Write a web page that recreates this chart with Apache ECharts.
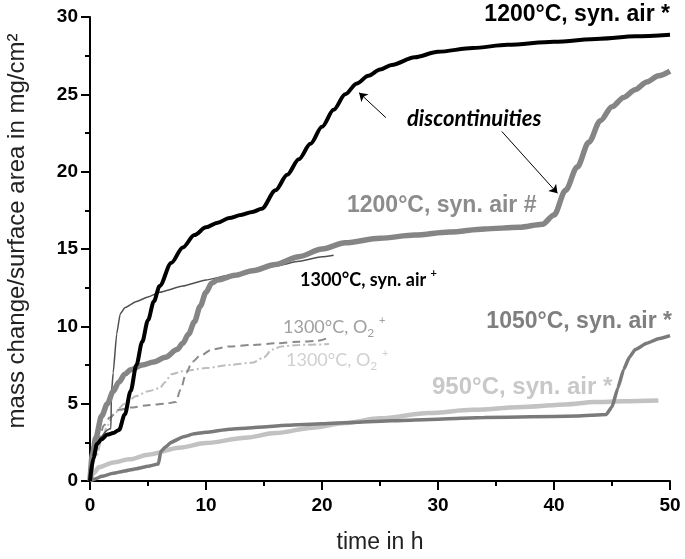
<!DOCTYPE html>
<html>
<head>
<meta charset="utf-8">
<script src="https://cdn.jsdelivr.net/npm/echarts@6/dist/echarts.min.js"></script>
<style>html,body{margin:0;padding:0;background:#fff}#c{width:685px;height:559px}</style>
</head>
<body>
<div id="c"></div>
<script>
// ---- data (time in h, mass change in mg/cm2) ----
var xTicks = [0, 10, 20, 30, 40, 50];
var yTicks = [0, 5, 10, 15, 20, 25, 30];

var t1200a = [0,0.3,0.6,1.0,1.5,2.0,2.5,3.0,3.5,4.0,4.5,5.0,5.5,6.0,7.0,8.0,9.0,10.0,11.0,12.0,13.0,14.0,14.8,16.0,17.0,18.0,19.0,20.0,21.0,22.0,23.0,24.0,25.0,26.0,28.0,30.0,33.0,36.0,40.0,44.0,47.0,50.0];
var v1200a = [0,1.5,2.4,2.7,3.0,3.1,3.3,4.3,5.8,7.5,9.0,10.4,11.6,12.6,14.1,15.1,15.9,16.4,16.7,17.0,17.2,17.4,17.6,18.8,19.8,20.8,21.8,22.9,24.0,25.0,25.7,26.2,26.6,26.9,27.4,27.75,28.0,28.2,28.4,28.6,28.75,28.85];

var t1200b = [0,0.2,0.5,1.0,1.5,2.0,2.5,3.0,3.5,4.5,5.5,6.5,7.5,8.0,8.5,9.0,9.5,10.0,10.5,11.0,12.5,14.0,16.0,18.0,20.0,22.0,25.0,28.0,31.0,34.0,37.0,39.0,40.0,41.0,42.0,43.0,44.0,45.0,46.0,47.0,48.0,49.0,50.0];
var v1200b = [0,1.7,2.8,4.2,5.0,5.8,6.4,6.9,7.2,7.5,7.7,8.0,8.5,8.9,9.5,10.3,11.3,12.2,12.8,13.0,13.3,13.6,14.0,14.5,15.0,15.4,15.7,15.9,16.1,16.3,16.4,16.6,17.2,18.8,20.3,21.9,23.3,24.2,24.8,25.3,25.8,26.2,26.5];

var t1300air = [0,0.4,0.9,1.5,1.8,1.85,2.0,2.3,2.6,3.0,4.0,5.0,6.0,8.0,10.0,12.0,14.0,16.0,18.0,20.0,21.0];
var v1300air = [0,1.8,2.8,3.3,3.4,5.7,7.0,9.5,10.8,11.2,11.6,11.9,12.2,12.6,13.0,13.3,13.6,13.9,14.2,14.5,14.6];

var t1300o2a = [0,0.4,0.8,1.2,1.7,2.5,3.5,5.0,6.5,7.4,7.8,8.3,8.8,9.5,10.5,12.0,14.0,16.0,18.0,19.5,20.5];
var v1300o2a = [0,1.5,2.8,3.6,4.1,4.6,4.75,4.9,5.0,5.1,5.9,7.0,7.7,8.1,8.5,8.7,8.8,8.9,9.0,9.05,9.25];

var t1300o2b = [0,0.5,1.0,1.5,2.0,3.0,4.0,5.0,6.0,6.5,7.0,8.0,10.0,12.0,14.0,15.0,15.7,16.5,18.0,20.6];
var v1300o2b = [0,1.5,2.6,3.6,4.3,5.0,5.5,5.8,6.0,6.4,6.9,7.1,7.3,7.5,7.65,8.0,8.5,8.7,8.8,8.85];

var t1050 = [0,0.5,1,2,3,4,5,5.9,6.1,6.5,7,8,9,10,12,14,17,20,23,26,30,34,38,42,44.5,45,45.5,46,46.5,47,48,49,50];
var v1050 = [0,0.15,0.3,0.5,0.65,0.8,0.95,1.1,1.9,2.2,2.5,2.85,3.05,3.15,3.35,3.45,3.6,3.7,3.8,3.9,4.0,4.1,4.15,4.2,4.3,4.8,6.0,7.2,8.0,8.5,8.9,9.2,9.4];

var t950 = [0,0.3,0.8,2,3.4,5,7.7,10,13.4,16,19.2,22,25,29.2,33,37.8,41,43.5,46,49];
var v950 = [0,0.5,0.9,1.2,1.4,1.7,2.15,2.45,2.8,3.1,3.45,3.75,4.05,4.4,4.6,4.8,4.95,5.1,5.15,5.2];

// arrow annotations [from, to] in data coordinates
var arrow1 = [[25.5, 23.5], [23.2, 25.1]];
var arrow2 = [[35.5, 22.6], [40.3, 18.6]];

function pairs(t, v) { return t.map(function (x, i) { return [x, v[i]]; }); }

var chart = echarts.init(document.getElementById('c'));
var SANS = '"Liberation Sans", Arial, sans-serif';
var CAL = 'Lato, "Liberation Sans", sans-serif';

function line(name, t, v, color, width, type, smooth) {
  return {
    name: name, type: 'line', data: pairs(t, v), showSymbol: false, symbol: 'none',
    smooth: smooth === undefined ? 0.3 : smooth, smoothMonotone: 'x',
    lineStyle: { color: color, width: width, type: type || 'solid' },
    silent: true, animation: false
  };
}

var black = line('1200°C, syn. air *', t1200a, v1200a, '#000000', 4);
black.markLine = {
  silent: true, animation: false, symbol: ['none', 'arrow'], symbolSize: 8,
  label: { show: false },
  lineStyle: { color: '#000', width: 1, type: 'solid' },
  data: [
    [{ coord: arrow1[0] }, { coord: arrow1[1] }],
    [{ coord: arrow2[0] }, { coord: arrow2[1] }]
  ]
};

function o2label(x, y, col) {
  return { type: 'text', x: x, y: y, style: {
    text: '{a|1300°C, O}{b|2}{a| }{s|+}', textAlign: 'left', textVerticalAlign: 'middle',
    rich: { a: { fontFamily: CAL, fontSize: 18, fill: col, lineHeight: 24 },
            b: { fontFamily: CAL, fontSize: 12, fill: col, lineHeight: 24, verticalAlign: 'bottom' },
            s: { fontFamily: CAL, fontSize: 11, fill: col, lineHeight: 24, verticalAlign: 'top' } } } };
}

var option = {
  backgroundColor: '#ffffff',
  animation: false,
  grid: { left: 90, right: 15, top: 17, bottom: 72, containLabel: false },
  xAxis: {
    type: 'value', min: 0, max: 50, interval: 10,
    name: 'time in h', nameLocation: 'middle', nameGap: 50,
    nameTextStyle: { fontFamily: SANS, fontSize: 23, color: '#222' },
    axisLine: { lineStyle: { color: '#000', width: 2 } },
    axisTick: { show: true, inside: false, length: 9, lineStyle: { color: '#000', width: 2 } },
    minorTick: { show: true, splitNumber: 2, length: 5, lineStyle: { color: '#000', width: 2 } },
    axisLabel: { fontFamily: SANS, fontWeight: 'bold', fontSize: 19, color: '#000', margin: 15 },
    splitLine: { show: false }
  },
  yAxis: {
    type: 'value', min: 0, max: 30, interval: 5,
    axisLine: { show: true, lineStyle: { color: '#000', width: 2 } },
    axisTick: { show: true, inside: false, length: 9, lineStyle: { color: '#000', width: 2 } },
    minorTick: { show: true, splitNumber: 2, length: 5, lineStyle: { color: '#000', width: 2 } },
    axisLabel: { fontFamily: SANS, fontWeight: 'bold', fontSize: 19, color: '#000', margin: 12 },
    splitLine: { show: false }
  },
  series: [
    line('950°C, syn. air *', t950, v950, '#c2c2c2', 4.5),
    line('1050°C, syn. air *', t1050, v1050, '#7a7a7a', 3.5, 'solid', 0.15),
    line('1300°C, O2 + (b)', t1300o2b, v1300o2b, '#bdbdbd', 2, [8, 3, 2, 3]),
    line('1300°C, O2 + (a)', t1300o2a, v1300o2a, '#8a8a8a', 2, [8, 5]),
    line('1300°C, syn. air +', t1300air, v1300air, '#505050', 1.5, 'solid', 0.15),
    line('1200°C, syn. air #', t1200b, v1200b, '#858585', 5.5),
    black
  ],
  graphic: [
    { type: 'text', x: 17, y: 231, rotation: Math.PI / 2, style: { text: 'mass change/surface area in mg/cm²', fontFamily: SANS, fontSize: 24, fill: '#222', textAlign: 'center', textVerticalAlign: 'middle' } },
    { type: 'text', x: 670, y: 15, style: { text: '1200°C, syn. air *', fontFamily: SANS, fontWeight: 'bold', fontSize: 23, fill: '#000', textAlign: 'right', textVerticalAlign: 'middle' } },
    { type: 'text', x: 407, y: 119, style: { text: 'discontinuities', fontFamily: CAL, fontWeight: 'bold', fontStyle: 'italic', fontSize: 22, fill: '#000', textAlign: 'left', textVerticalAlign: 'middle' } },
    { type: 'text', x: 347, y: 206, style: { text: '1200°C, syn. air #', fontFamily: SANS, fontWeight: 'bold', fontSize: 23, fill: '#8c8c8c', textAlign: 'left', textVerticalAlign: 'middle' } },
    { type: 'text', x: 672, y: 322, style: { text: '1050°C, syn. air *', fontFamily: SANS, fontWeight: 'bold', fontSize: 23, fill: '#7f7f7f', textAlign: 'right', textVerticalAlign: 'middle' } },
    { type: 'text', x: 432, y: 387, style: { text: '950°C, syn. air *', fontFamily: SANS, fontWeight: 'bold', fontSize: 24, fill: '#c8c8c8', textAlign: 'left', textVerticalAlign: 'middle' } },
    { type: 'text', x: 300, y: 280, style: {
        text: '{a|1300°C, syn. air }{s|+}', textAlign: 'left', textVerticalAlign: 'middle',
        rich: { a: { fontFamily: CAL, fontWeight: 'bold', fontSize: 18, fill: '#000', lineHeight: 24 },
                s: { fontFamily: CAL, fontWeight: 'bold', fontSize: 11, fill: '#000', lineHeight: 24, verticalAlign: 'top' } } } },
    o2label(283, 327, '#a0a0a0'),
    o2label(286, 360, '#d0d0d0')
  ]
};
chart.setOption(option);
</script>
</body>
</html>
